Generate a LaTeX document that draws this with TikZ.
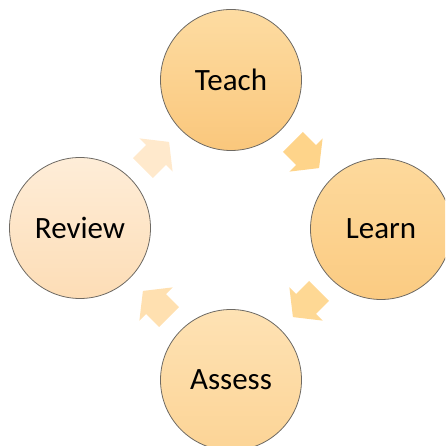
\documentclass[tikz,border=0pt]{standalone}
\usepackage{fontspec}
\setmainfont{Carlito}
\definecolor{teachT}{HTML}{FDDCA2}
\definecolor{teachB}{HTML}{FAC77C}
\definecolor{learnT}{HTML}{FDD99C}
\definecolor{learnB}{HTML}{FBCB82}
\definecolor{assessT}{HTML}{FEE2B4}
\definecolor{assessB}{HTML}{FCD496}
\definecolor{reviewT}{HTML}{FEEDD8}
\definecolor{reviewB}{HTML}{FDDDB6}
\definecolor{rimc}{HTML}{6E6A64}
\definecolor{arrA}{HTML}{FED48A}
\definecolor{arrB}{HTML}{FED894}
\definecolor{arrC}{HTML}{FFE0B0}
\definecolor{arrD}{HTML}{FFE9CC}
\tikzset{
  stagecirc/.style={circle, draw=rimc, line width=0.8pt, minimum size=141pt, inner sep=0pt,
     font=\fontsize{31}{37}\selectfont, text=black},
  cyclearrow/.pic={\fill[pic actions] (-18.5,-14.1) -- (0,-14.1) -- (0,-23.5) -- (18.5,0) -- (0,23.5) -- (0,14.1) -- (-18.5,14.1) -- cycle;}
}
\begin{document}
\begin{tikzpicture}[x=1pt,y=1pt]
\useasboundingbox (0,0) rectangle (445,446);
\begin{scope}
\clip (0,0) rectangle (445,446);
\node[stagecirc, top color=teachT, bottom color=teachB] (teach) at (231,366) {Teach};
\node[stagecirc, top color=learnT, bottom color=learnB] (learn) at (381,217) {Learn};
\node[stagecirc, top color=assessT, bottom color=assessB] (assess) at (231,66) {Assess};
\node[stagecirc, top color=reviewT, bottom color=reviewB] (review) at (80,218) {Review};
\coordinate (tl) at (306,291);
\coordinate (la) at (306,142);
\coordinate (ar) at (156,142);
\coordinate (rt) at (156,291);
\pic[rotate=-45, fill=arrA] at (tl) {cyclearrow};
\pic[rotate=-135, fill=arrB] at (la) {cyclearrow};
\pic[rotate=135, fill=arrC] at (ar) {cyclearrow};
\pic[rotate=45, fill=arrD] at (rt) {cyclearrow};
\end{scope}
\end{tikzpicture}
\end{document}
